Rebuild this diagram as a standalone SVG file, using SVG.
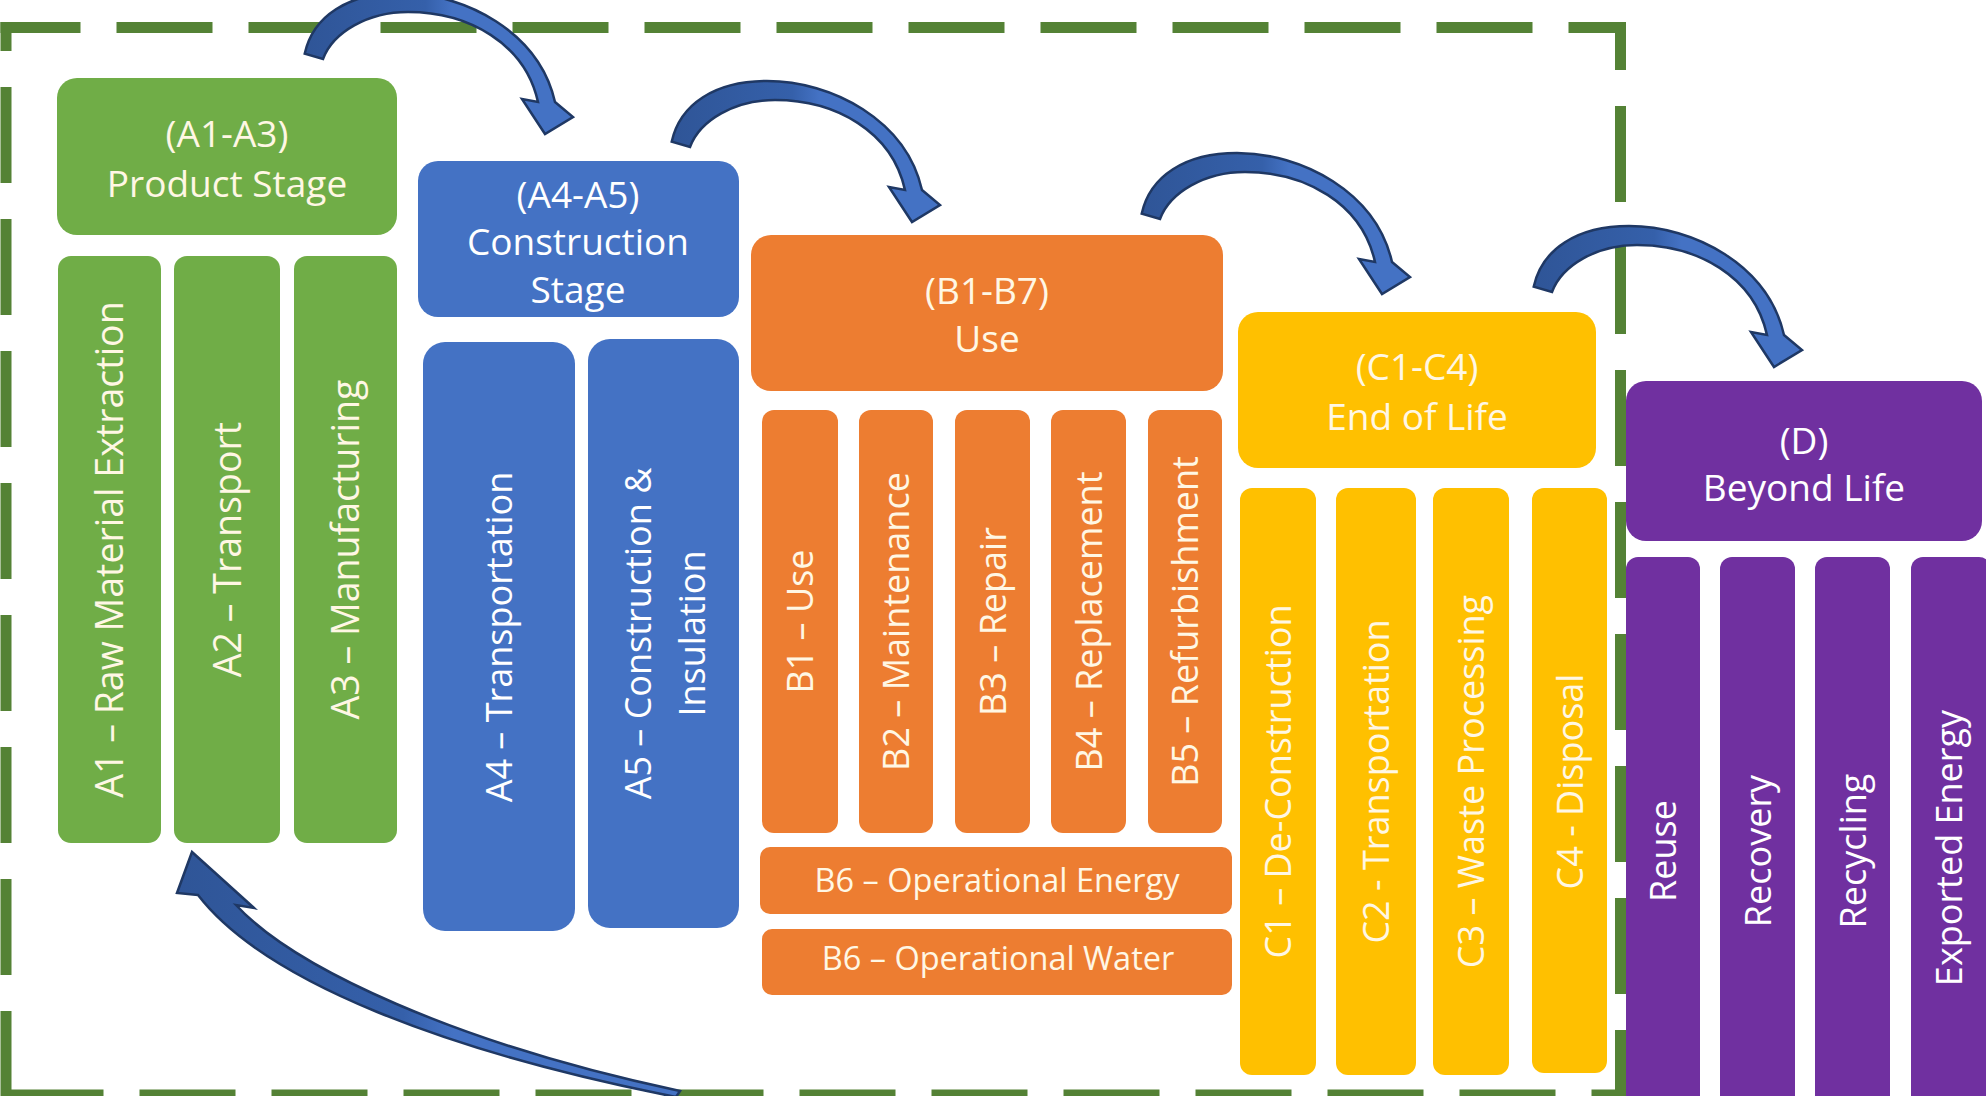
<svg xmlns="http://www.w3.org/2000/svg" xmlns:xlink="http://www.w3.org/1999/xlink" width="1986" height="1096" viewBox="0 0 1986 1096">
<style>
text{font-family:"Open Sans","Liberation Sans",sans-serif;text-anchor:middle}
.hd{font-size:37px}
.vt{font-size:36px}
.vg{font-size:37.5px}
.cw{fill:#FFF7E4}
.ww{fill:#FFFFFF}
.g{fill:#70AD47}
.b{fill:#4472C4}
.o{fill:#ED7D31}
.y{fill:#FFC000}
.p{fill:#7030A0}
.dash{stroke:#548235;stroke-width:11;stroke-dasharray:96 36;fill:none}
.arr{fill:url(#ag);stroke:#1F3864;stroke-width:2.5;stroke-linejoin:miter}
</style>
<defs>
<linearGradient id="ag" x1="0" y1="0" x2="1" y2="0">
<stop offset="0" stop-color="#2F5597"/>
<stop offset="0.45" stop-color="#3560AA"/>
<stop offset="0.55" stop-color="#4472C4"/>
<stop offset="1" stop-color="#4472C4"/>
</linearGradient>
<path id="arc" d="M671.7,141.7 C680,104 715,81 767,81 C832,81 906,120 922,190 L940,205 L912,222 L889,187 L905,190 C892,131 835,100 775,100 C735,100 700,120 690,147 Z"/>
</defs>
<rect width="1986" height="1096" fill="#FFFFFF"/>

<g id="stage-a1a3">
<rect class="g" x="57" y="78" width="340" height="157" rx="20"/>
<text class="hd cw" x="227" y="147">(A1-A3)</text>
<text class="hd cw" x="227" y="197">Product Stage</text>
</g>
<g id="a1"><rect class="g" x="58" y="256" width="103" height="587" rx="13"/>
<text class="vg cw" transform="translate(109.5,549.5) rotate(-90)" y="13.5">A1 – Raw Material Extraction</text></g>
<g id="a2"><rect class="g" x="174" y="256" width="106" height="587" rx="13"/>
<text class="vg cw" transform="translate(227,549.5) rotate(-90)" y="13.5">A2 – Transport</text></g>
<g id="a3"><rect class="g" x="294" y="256" width="103" height="587" rx="13"/>
<text class="vg cw" transform="translate(345.5,549.5) rotate(-90)" y="13.5">A3 – Manufacturing</text></g>

<g id="stage-a4a5">
<rect class="b" x="418" y="161" width="321" height="156" rx="20"/>
<text class="hd ww" x="578" y="208">(A4-A5)</text>
<text class="hd ww" x="578" y="255">Construction</text>
<text class="hd ww" x="578" y="303">Stage</text>
</g>
<g id="a4"><rect class="b" x="423" y="342" width="152" height="589" rx="22"/>
<text class="vt ww" transform="translate(499,637) rotate(-90)" y="13">A4 – Transportation</text></g>
<g id="a5"><rect class="b" x="588" y="339" width="151" height="589" rx="22"/>
<text class="vt ww" transform="translate(663.5,633.5) rotate(-90)"><tspan x="0" y="-12.5">A5 – Construction &amp;</tspan><tspan x="0" y="41.5">Insulation</tspan></text></g>

<g id="stage-b1b7">
<rect class="o" x="751" y="235" width="472" height="156" rx="20"/>
<text class="hd cw" x="987" y="304">(B1-B7)</text>
<text class="hd cw" x="987" y="352">Use</text>
</g>
<g id="b1"><rect class="o" x="762" y="410" width="76" height="423" rx="12"/>
<text class="vt cw" transform="translate(800,621.5) rotate(-90)" y="13">B1 – Use</text></g>
<g id="b2"><rect class="o" x="859" y="410" width="74" height="423" rx="12"/>
<text class="vt cw" transform="translate(896,621.5) rotate(-90)" y="13">B2 – Maintenance</text></g>
<g id="b3"><rect class="o" x="955" y="410" width="75" height="423" rx="12"/>
<text class="vt cw" transform="translate(992.5,621.5) rotate(-90)" y="13">B3 – Repair</text></g>
<g id="b4"><rect class="o" x="1051" y="410" width="75" height="423" rx="12"/>
<text class="vt cw" transform="translate(1088.5,621.5) rotate(-90)" y="13">B4 – Replacement</text></g>
<g id="b5"><rect class="o" x="1148" y="410" width="74" height="423" rx="12"/>
<text class="vt cw" transform="translate(1185,621.5) rotate(-90)" y="13">B5 – Refurbishment</text></g>
<g id="b6-energy"><rect class="o" x="760" y="847" width="472" height="67" rx="10"/>
<text class="cw" style="font-size:32.5px" x="997" y="892">B6 – Operational Energy</text></g>
<g id="b6-water"><rect class="o" x="762" y="929" width="470" height="66" rx="10"/>
<text class="cw" style="font-size:32.5px" x="998" y="970">B6 – Operational Water</text></g>

<g id="stage-c1c4">
<rect class="y" x="1238" y="312" width="358" height="156" rx="20"/>
<text class="hd cw" x="1417" y="380">(C1-C4)</text>
<text class="hd cw" x="1417" y="430">End of Life</text>
</g>
<g id="c1"><rect class="y" x="1240" y="488" width="76" height="587" rx="12"/>
<text class="vt cw" transform="translate(1278,781.5) rotate(-90)" y="13">C1 – De-Construction</text></g>
<g id="c2"><rect class="y" x="1336" y="488" width="80" height="587" rx="12"/>
<text class="vt cw" transform="translate(1376,781.5) rotate(-90)" y="13">C2 - Transportation</text></g>
<g id="c3"><rect class="y" x="1433" y="488" width="76" height="587" rx="12"/>
<text class="vt cw" transform="translate(1471,781.5) rotate(-90)" y="13">C3 – Waste Processing</text></g>
<g id="c4"><rect class="y" x="1532" y="488" width="75" height="585" rx="12"/>
<text class="vt cw" transform="translate(1569.5,781.5) rotate(-90)" y="13">C4 - Disposal</text></g>

<g id="stage-d">
<rect class="p" x="1626" y="381" width="356" height="160" rx="20"/>
<text class="hd ww" x="1804" y="454">(D)</text>
<text class="hd ww" x="1804" y="501">Beyond Life</text>
</g>
<g id="d-reuse"><rect class="p" x="1626" y="557" width="74" height="600" rx="12"/>
<text class="vt ww" transform="translate(1663,851) rotate(-90)" y="13">Reuse</text></g>
<g id="d-recovery"><rect class="p" x="1720" y="557" width="75" height="600" rx="12"/>
<text class="vt ww" transform="translate(1757.5,851) rotate(-90)" y="13">Recovery</text></g>
<g id="d-recycling"><rect class="p" x="1815" y="557" width="75" height="600" rx="12"/>
<text class="vt ww" transform="translate(1852.5,851) rotate(-90)" y="13">Recycling</text></g>
<g id="d-exported"><rect class="p" x="1911" y="557" width="80" height="600" rx="12"/>
<text class="vt ww" transform="translate(1949,848) rotate(-90)" y="13">Exported Energy</text></g>

<g id="boundary">
<line class="dash" x1="0.5" y1="27.5" x2="1626" y2="27.5" stroke-dashoffset="16"/>
<line class="dash" x1="1620.5" y1="22" x2="1620.5" y2="1100" stroke-dashoffset="48"/>
<line class="dash" x1="6" y1="22" x2="6" y2="1100" stroke-dashoffset="67"/>
<line class="dash" x1="0.5" y1="1095" x2="1626" y2="1095" stroke-dashoffset="125"/>
</g>

<g id="connectors">
<use href="#arc" class="arr" transform="translate(-367,-88)"/>
<use href="#arc" class="arr"/>
<use href="#arc" class="arr" transform="translate(470,72)"/>
<use href="#arc" class="arr" transform="translate(862,145)"/>
<path class="arr" d="M198,895 L177,893 L192,852 L254,908 L236,905 C294,968 458,1044 680,1091 L676,1097 C448,1052 265,982 198,895 Z"/>
</g>
</svg>
